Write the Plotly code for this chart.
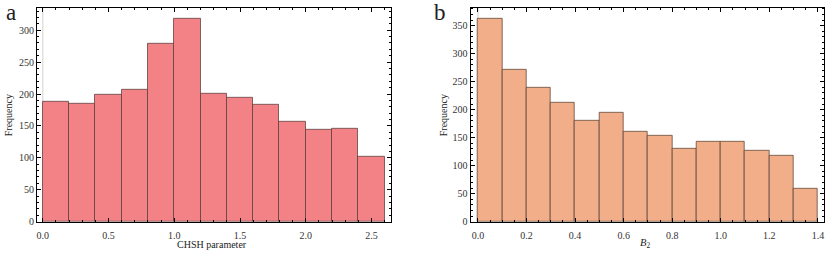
import plotly.graph_objects as go

# Panel a: CHSH parameter histogram (bin width 0.2)
chsh_edges = [0.0, 0.2, 0.4, 0.6, 0.8, 1.0, 1.2, 1.4, 1.6, 1.8, 2.0, 2.2, 2.4, 2.6]
chsh_counts = [188, 184, 199, 207, 279, 317, 201, 194, 183, 156, 144, 145, 101]

# Panel b: B2 histogram (bin width 0.1)
b2_edges = [0.0, 0.1, 0.2, 0.3, 0.4, 0.5, 0.6, 0.7, 0.8, 0.9, 1.0, 1.1, 1.2, 1.3, 1.4]
b2_counts = [363, 271, 239, 213, 180, 194, 161, 153, 131, 143, 142, 126, 117, 58]

a_xticks = [0.0, 0.5, 1.0, 1.5, 2.0, 2.5]
a_yticks = [0, 50, 100, 150, 200, 250, 300]
b_xticks = [0.0, 0.2, 0.4, 0.6, 0.8, 1.0, 1.2, 1.4]
b_yticks = [0, 50, 100, 150, 200, 250, 300, 350]

FONT = "Liberation Serif, Times New Roman, serif"


def centers(edges):
    return [(edges[i] + edges[i + 1]) / 2 for i in range(len(edges) - 1)]


def widths(edges):
    return [edges[i + 1] - edges[i] for i in range(len(edges) - 1)]


fig = go.Figure()
fig.add_trace(go.Bar(
    x=centers(chsh_edges), y=chsh_counts, width=widths(chsh_edges),
    marker=dict(color="rgb(242,130,134)", line=dict(color="rgba(90,60,60,0.75)", width=1)),
    xaxis="x", yaxis="y", showlegend=False,
))
fig.add_trace(go.Bar(
    x=centers(b2_edges), y=b2_counts, width=widths(b2_edges),
    marker=dict(color="rgb(242,174,137)", line=dict(color="rgba(90,65,55,0.75)", width=1)),
    xaxis="x2", yaxis="y2", showlegend=False,
))

ydom = [1 - 227 / 256, 1 - 8 / 256]


def axis_style(minor_dtick, standoff):
    return dict(
        showline=True, linecolor="black", linewidth=1.2, mirror="ticks",
        ticks="inside", ticklen=4, tickwidth=1, tickcolor="black",
        showgrid=False, zeroline=False, ticklabelstandoff=standoff,
        tickfont=dict(family=FONT, size=10, color="#333"),
        minor=dict(ticks="inside", ticklen=2, tickcolor="black", showgrid=False, dtick=minor_dtick),
    )


fig.update_layout(
    width=830, height=256,
    margin=dict(l=0, r=0, t=0, b=0),
    paper_bgcolor="white", plot_bgcolor="white",
    bargap=0,
    font=dict(family=FONT),
    xaxis=dict(domain=[37 / 830, 391 / 830], range=[-0.044, 2.648],
               tickvals=a_xticks, ticktext=[f"{v:.1f}" for v in a_xticks],
               anchor="y", **axis_style(0.1, 4)),
    yaxis=dict(domain=ydom, range=[0, 335], tickvals=a_yticks, anchor="x", **axis_style(10, 0)),
    xaxis2=dict(domain=[470.7 / 830, 824 / 830], range=[-0.03, 1.425],
                tickvals=b_xticks, ticktext=[f"{v:.1f}" for v in b_xticks],
                anchor="y2", **axis_style(0.05, 4)),
    yaxis2=dict(domain=ydom, range=[0, 382], tickvals=b_yticks, anchor="x2", **axis_style(10, 0)),
)

# faint axis line at x = 0
for xr, yr in (("x", "y"), ("x2", "y2")):
    fig.add_shape(type="line", xref=xr, yref=f"{yr} domain", x0=0, x1=0, y0=0, y1=1,
                  line=dict(color="rgba(180,180,180,0.6)", width=1), layer="below")


def label(text, px, py, size, angle=0):
    fig.add_annotation(text=text, x=px / 830, y=1 - py / 256, xref="paper", yref="paper",
                       xanchor="center", yanchor="middle", showarrow=False, textangle=angle,
                       borderpad=0,
                       font=dict(family=FONT, size=size, color="#222"))


label("CHSH parameter", 212, 250, 10)
label("<i>B</i><sub>2</sub>", 645, 249, 10.5)
label("Frequency", 8, 118, 10, -90)
label("Frequency", 443, 118, 10, -90)
label("a", 11, 13, 23)
label("b", 440, 13, 23)

fig.write_html("out.html", config={"displayModeBar": False},
               post_script="document.body.style.margin='0';")
